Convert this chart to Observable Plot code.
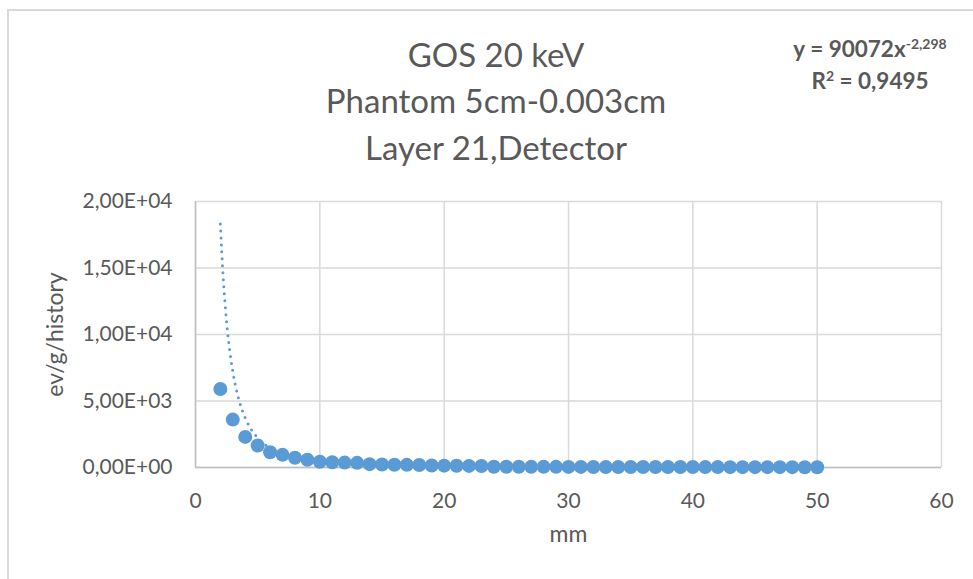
<!DOCTYPE html>
<html>
<head>
<meta charset="utf-8">
<script src="https://cdn.jsdelivr.net/npm/d3@7"></script>
<script src="https://cdn.jsdelivr.net/npm/@observablehq/plot@0.6"></script>
<style>
  html, body { margin: 0; padding: 0; background: #fff; overflow: hidden; }
  #chart { position: relative; width: 973px; height: 579px; font-family: Lato, "Noto Sans", sans-serif; color: #595959; }
  #border { position: absolute; left: 7px; top: 9px; width: 1100px; height: 700px; border: 2px solid #d9d9d9; box-sizing: border-box; }
  #plot { position: absolute; left: 0; top: 0; }
  .title { position: absolute; left: 246px; width: 500px; text-align: center; font-size: 33px; line-height: 40px; white-space: nowrap; }
  .eq { position: absolute; left: 770px; width: 200px; text-align: center; font-size: 22.5px; line-height: 28px; font-weight: bold; white-space: nowrap; }
  .eq sup { font-size: 14px; line-height: 0; vertical-align: 8px; }
</style>
</head>
<body>
<div id="chart">
  <div id="border"></div>
  <div id="plot"></div>
  <div class="title" style="top:34px">GOS 20 keV</div>
  <div class="title" style="top:80px">Phantom 5cm-0.003cm</div>
  <div class="title" style="top:127px">Layer 21,Detector</div>
  <div class="eq" style="top:35px">y = 90072x<sup>-2,298</sup></div>
  <div class="eq" style="top:67px">R<sup>2</sup> = 0,9495</div>
</div>
<script>
// Depth in mm
const depth = [2, 3, 4, 5, 6, 7, 8, 9, 10, 11, 12, 13, 14, 15, 16, 17, 18, 19, 20, 21, 22, 23, 24, 25, 26,
  27, 28, 29, 30, 31, 32, 33, 34, 35, 36, 37, 38, 39, 40, 41, 42, 43, 44, 45, 46, 47, 48, 49, 50];
// Deposited energy, ev/g/history
const dose = [5900, 3600, 2300, 1650, 1150, 950, 730, 580, 430, 400, 370, 350, 250, 230, 210, 200, 190, 150, 140, 130, 120, 110,
  60, 55, 55, 50, 50, 48, 45, 45, 42, 40, 40, 38, 36, 35, 34, 33, 32, 30, 30, 28, 28, 27, 26, 25, 25, 24, 23];

// Power trendline y = a * x^b
const trendA = 90072;
const trendB = -2.298;

const xTicks = [0, 10, 20, 30, 40, 50, 60];
const yTicks = [0, 5000, 10000, 15000, 20000];

const points = depth.map((d, i) => ({x: d, y: dose[i]}));
const trend = d3.range(2, 50.001, 0.05).map(x => ({x, y: trendA * Math.pow(x, trendB)}));

// 2,00E+04 style labels
const sci = v => {
  const [m, e] = v.toExponential(2).split("e");
  const n = Math.abs(+e);
  return m.replace(".", ",") + "E" + (+e < 0 ? "-" : "+") + String(n).padStart(2, "0");
};

const grid = "#d9d9d9";
const axisCol = "#bfbfbf";
const ink = "#595959";
const blue = "#5b9bd5";

const chart = Plot.plot({
  width: 973,
  height: 579,
  marginLeft: 195,
  marginRight: 32,
  marginTop: 201,
  marginBottom: 112,
  style: {fontFamily: "Lato, 'Noto Sans', sans-serif", color: ink, background: "transparent"},
  x: {domain: [0, 60]},
  y: {domain: [0, 20000]},
  marks: [
    Plot.gridX(xTicks, {stroke: grid, strokeOpacity: 1, strokeWidth: 1.5}),
    Plot.gridY(yTicks, {stroke: grid, strokeOpacity: 1, strokeWidth: 1.5}),
    Plot.ruleX([0], {stroke: axisCol, strokeWidth: 1.5}),
    Plot.ruleY([0], {stroke: axisCol, strokeWidth: 1.5}),
    Plot.axisX(xTicks, {tickSize: 0, tickPadding: 26, fontSize: 21, label: null, fill: ink}),
    Plot.axisY(yTicks, {tickSize: 0, tickPadding: 23, fontSize: 21, label: null, tickFormat: sci, fill: ink}),
    Plot.text(["mm"], {frameAnchor: "bottom", dy: 74, fontSize: 23, fill: ink}),
    Plot.text(["ev/g/history"], {frameAnchor: "left", textAnchor: "middle", dx: -140, rotate: -90, fontSize: 23, fill: ink}),
    Plot.line(trend, {x: "x", y: "y", stroke: blue, strokeWidth: 3, strokeDasharray: "0 7", strokeLinecap: "round"}),
    Plot.dot(points, {x: "x", y: "y", r: 7, fill: blue, stroke: "none"})
  ]
});
document.getElementById("plot").appendChild(chart);
</script>
</body>
</html>
